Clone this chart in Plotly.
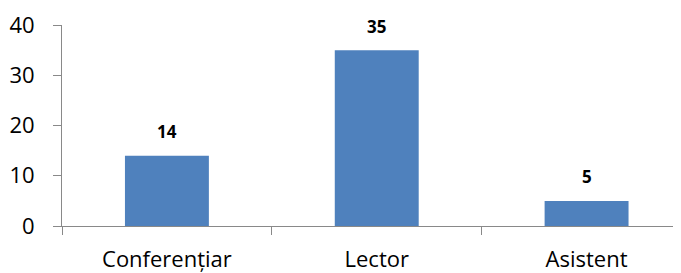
import plotly.graph_objects as go

categories = ["Conferențiar", "Lector", "Asistent"]
values = [14, 35, 5]
y_ticks = [0, 10, 20, 30, 40]

fig = go.Figure()
fig.add_trace(go.Bar(
    x=categories, y=values, width=0.4,
    marker=dict(color="#4F81BD", line=dict(width=0)),
))
for c, v in zip(categories, values):
    fig.add_annotation(x=c, y=v, text=f"<b>{v}</b>", showarrow=False,
                       yshift=24, font=dict(family="Open Sans", size=17, color="#000000"))

axis_color = "#898989"
fig.update_layout(
    width=673, height=265,
    margin=dict(l=54, r=0, t=17, b=45),
    paper_bgcolor="white", plot_bgcolor="white",
    showlegend=False,
    xaxis=dict(range=[-0.5, 2.45], showline=True, linecolor=axis_color, linewidth=1,
               ticks="outside", tickson="boundaries", ticklen=8, tickcolor=axis_color,
               ticklabelstandoff=14,
               tickfont=dict(family="Open Sans", size=22, color="#000000"),
               showgrid=False, zeroline=False),
    yaxis=dict(range=[0, 40], tickvals=y_ticks, showline=True, linecolor=axis_color, linewidth=1,
               ticks="outside", ticklen=8, tickcolor=axis_color,
               ticklabelstandoff=14,
               tickfont=dict(family="Open Sans", size=22, color="#000000"),
               showgrid=False, zeroline=False),
)
fig.write_html("out.html")
